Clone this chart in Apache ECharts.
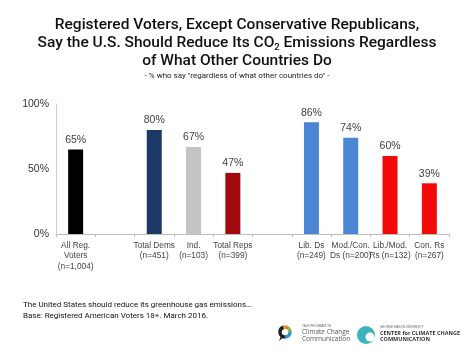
<!DOCTYPE html>
<html><head><meta charset="utf-8">
<script src="https://cdn.jsdelivr.net/npm/echarts@6/dist/echarts.min.js"></script>
<style>html,body{margin:0;padding:0;background:#fff}#c{width:474px;height:355px}</style>
</head><body><div id="c"></div>
<script>
const categories = ['All Reg.\nVoters\n(n=1,004)', '', 'Total Dems\n(n=451)', 'Ind.\n(n=103)', 'Total Reps\n(n=399)', '', 'Lib. Ds\n(n=249)', 'Mod./Con.\nDs (n=200)', 'Lib./Mod.\nRs (n=132)', 'Con. Rs\n(n=267)'];
const values = [65, null, 80, 67, 47, null, 86, 74, 60, 39];
const barColors = ['#000000', null, '#1c3a68', '#c4c4c4', '#a00a0e', null, '#4a86d4', '#4a86d4', '#f50a0a', '#f50a0a'];
const yTicks = [0, 50, 100];

const chart = echarts.init(document.getElementById('c'));
const font = 'Roboto, "Liberation Sans", sans-serif';
const tFont = { fontFamily: font, fontSize: 15.5, fontWeight: 500, color: '#111' };
chart.setOption({
  animation: false,
  title: [
    { text: 'Registered Voters, Except Conservative Republicans,', left: 'center', top: 12, textStyle: tFont },
    { text: '{a|Say the U.S. Should Reduce Its CO}{s|2}{a| Emissions Regardless}', left: 'center', top: 29,
      textStyle: { rich: { a: tFont, s: { fontFamily: font, fontSize: 9.5, fontWeight: 500, color: '#111', padding: [9, 0, 0, 0] } } } },
    { text: 'of What Other Countries Do', left: 'center', top: 48, textStyle: tFont },
    { text: '- % who say "regardless of what other countries do" -', left: 'center', top: 67,
      textStyle: { fontFamily: font, fontSize: 8, fontWeight: 'normal', color: '#222' } }
  ],
  grid: { left: 56, right: 25, top: 104, bottom: 121, containLabel: false },
  xAxis: {
    type: 'category', data: categories,
    axisLine: { lineStyle: { color: '#bdbdbd' } },
    axisTick: { show: true, length: 3, lineStyle: { color: '#bdbdbd' } },
    axisLabel: { interval: 0, hideOverlap: false, color: '#444', fontSize: 8.3, fontFamily: 'Arial, "Liberation Sans", sans-serif', lineHeight: 10.5, margin: 6 }
  },
  yAxis: {
    type: 'value', min: yTicks[0], max: yTicks[yTicks.length - 1], interval: 50,
    splitLine: { show: false },
    axisLine: { show: true, lineStyle: { color: '#cfcfcf' } },
    axisTick: { show: false },
    axisLabel: { formatter: '{value}%', color: '#333', fontSize: 10.5, fontFamily: 'Arial, "Liberation Sans", sans-serif', margin: 7 }
  },
  series: [{
    type: 'bar', barWidth: 15,
    data: values.map((v, i) => v == null ? null : { value: v, itemStyle: { color: barColors[i] } }),
    label: { show: true, position: 'top', distance: 4, formatter: '{c}%', color: '#404040', fontSize: 10.5, fontFamily: 'Arial, "Liberation Sans", sans-serif' }
  }],
  graphic: [
    { type: 'text', left: 23, top: 300, style: { text: 'The United States should reduce its greenhouse gas emissions…\nBase: Registered American Voters 18+. March 2016.', fill: '#111', font: '8px Roboto, "Liberation Sans", sans-serif', lineHeight: 10.5 } },
    // Yale logo
    { type: 'arc', shape: { cx: 285, cy: 332, r: 5, startAngle: 0, endAngle: Math.PI * 0.5 }, style: { stroke: '#3c8ec9', lineWidth: 3.5, fill: null } },
    { type: 'arc', shape: { cx: 285, cy: 332, r: 5, startAngle: Math.PI * 0.5, endAngle: Math.PI * 1.4 }, style: { stroke: '#222', lineWidth: 3.5, fill: null } },
    { type: 'arc', shape: { cx: 285, cy: 332, r: 5, startAngle: Math.PI * 1.4, endAngle: Math.PI * 1.75 }, style: { stroke: '#e8852a', lineWidth: 3.5, fill: null } },
    { type: 'arc', shape: { cx: 285, cy: 332, r: 5, startAngle: Math.PI * 1.75, endAngle: Math.PI * 2 }, style: { stroke: '#7ab648', lineWidth: 3.5, fill: null } },
    { type: 'polygon', shape: { points: [[281, 336], [279, 341], [284, 337]] }, style: { fill: '#222' } },
    { type: 'text', left: 302, top: 325, style: { text: 'YALE PROGRAM ON', fill: '#666', font: '3px sans-serif' } },
    { type: 'text', left: 302, top: 329, style: { text: 'Climate Change\nCommunication', fill: '#555', font: '6.5px "Open Sans", sans-serif', lineHeight: 6.5 } },
    // GMU logo
    { type: 'circle', shape: { cx: 366, cy: 335, r: 9 }, style: { fill: '#3bb4b8' } },
    { type: 'circle', shape: { cx: 370, cy: 337, r: 4.5 }, style: { fill: '#fff' } },
    { type: 'text', left: 380, top: 326, style: { text: 'GEORGE MASON UNIVERSITY', fill: '#666', font: '3px sans-serif' } },
    { type: 'text', left: 380, top: 330, style: { text: 'CENTER for CLIMATE CHANGE\nCOMMUNICATION', fill: '#333', font: 'bold 5.5px "Open Sans", sans-serif', lineHeight: 6.5 } }
  ]
});
</script></body></html>
